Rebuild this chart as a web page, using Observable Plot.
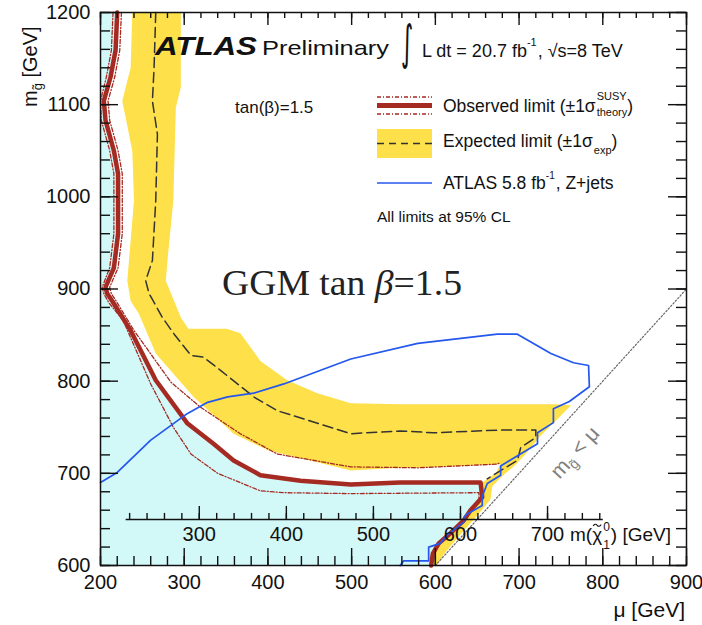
<!DOCTYPE html>
<html><head><meta charset="utf-8">
<script src="https://cdn.jsdelivr.net/npm/d3@7"></script>
<script src="https://cdn.jsdelivr.net/npm/@observablehq/plot@0.6"></script>
<style>
body{margin:0;background:#fff;}
#chart{position:relative;width:702px;height:625px;}
</style></head><body><div id="chart"></div>
<script>
// ---- tick values ----
const xTicksMajor = [200,300,400,500,600,700,800,900];
const yTicksMajor = [600,700,800,900,1000,1100,1200];
const chiTicksMajor = [300,400,500,600,700];
const xTicksMinor = d3.range(200, 901, 20);
const yTicksMinor = d3.range(600, 1201, 20);
const chiTicksMinor = d3.range(220, 761, 20);

// ---- series: [mu, m_gluino] in GeV ----
const observed = [[220,1200],[218,1159],[212,1130],[204,1104],[206,1083],[216,1050],[221,1025],[221,960],[216,923],[206,902],[208,895],[214,887],[236,855],[266,801],[304,754],[335,732],[359,714],[391,698],[439,692],[499,688],[558,690],[654,690],[656,674],[642,660],[634,649],[618,635],[604,624],[597,613],[595,600]];
const obsUp = [[225,1200],[223,1159],[217,1130],[209,1104],[211,1083],[221,1050],[226,1025],[226,960],[221,923],[211,902],[213,895],[220,885],[240,855],[284,799],[319,772],[367,743],[411,721],[499,707],[579,706],[674,710],[678,712]];
const obsDown = [[215,1200],[213,1159],[207,1130],[200,1104],[201,1083],[211,1050],[216,1025],[216,960],[211,923],[202,902],[204,895],[210,885],[227,866],[260,797],[287,750],[308,721],[340,700],[391,681],[419,679],[499,678],[652,679],[652,670]];
const expected = [[266,1200],[264,1140],[262,1104],[268,1068],[266,996],[262,931],[254,909],[258,895],[263,887],[274,869],[288,851],[308,828],[323,826],[343,812],[383,783],[411,768],[499,743],[558,746],[598,744],[678,747],[720,747],[720,739],[702,728],[698,714],[678,703],[662,694]];
const expUpper = [[296,1200],[296,1119],[290,1097],[287,996],[280,931],[278,909],[296,869],[305,857],[351,857],[367,852],[391,822],[423,801],[459,787],[499,776],[558,775],[744,775],[762,774]];
const expRightEdge = [[744,757],[726,741],[706,719],[693,707],[680,697],[668,686],[666,672],[650,654],[630,634],[610,612],[602,600]];
const expInnerEdge = [[595,600],[597,613],[604,624],[618,635],[634,649],[642,660],[656,674],[656,690],[672,700],[678,710]];
const expLower = [[579,706],[558,706],[499,703],[400,725],[359,743],[311,783],[266,830],[246,873],[236,887],[232,909],[240,996],[238,1050],[226,1104],[236,1140],[238,1200]];
const zjets = [[200,690],[220,701],[260,736],[304,765],[328,777],[352,783],[383,787],[419,797],[499,824],[579,841],[674,851],[698,851],[738,830],[765,820],[783,817],[784,794],[760,778],[741,770],[741,755],[722,744],[722,732],[678,708],[678,698],[662,689],[656,675],[656,665],[638,656],[634,652],[634,647],[614,633],[606,624],[592,620],[592,605],[562,605],[558,600]];
const kinematicLimit = [[600,600],[900,900]];

// ---- layout ----
const W = 702, H = 625, mL = 100, mR = 16, mT = 12, mB = 60;
const pxX = 700 / (W - mL - mR), pxY = 600 / (H - mT - mB);
const muOfChi = m => 318 + (m - 300) * 1.04;
const chiAxisY = 650;

const cyanPoly = [[200,1200], ...observed, [200,600]];
const yellowPoly = [...expUpper, ...expRightEdge, ...expInnerEdge, ...expLower];

const RED = "#a52a22", BLUE = "#2457ee", YELLOW = "#fde04a", CYAN = "#d3f8f8";
const X = d => d[0], Y = d => d[1];

const plot = Plot.plot({
  width: W, height: H, marginLeft: mL, marginRight: mR, marginTop: mT, marginBottom: mB,
  x: {domain: [200, 900]}, y: {domain: [600, 1200]},
  style: {fontFamily: "'Liberation Sans', Arial, sans-serif", fontSize: "20px", color: "#111", background: "white", overflow: "visible"},
  marks: [
    Plot.line(cyanPoly, {x: X, y: Y, fill: CYAN, stroke: "none"}),
    Plot.line(yellowPoly, {x: X, y: Y, fill: YELLOW, stroke: "none"}),
    Plot.line(kinematicLimit, {x: X, y: Y, stroke: "#666", strokeWidth: 1.2, strokeDasharray: "1.5,2"}),
    Plot.line(obsUp, {x: X, y: Y, stroke: RED, strokeWidth: 1.3, strokeDasharray: "4,2,1,2"}),
    Plot.line(obsDown, {x: X, y: Y, stroke: RED, strokeWidth: 1.3, strokeDasharray: "4,2,1,2"}),
    Plot.line(expected, {x: X, y: Y, stroke: "#333", strokeWidth: 1.5, strokeDasharray: "10,5"}),
    Plot.line(observed, {x: X, y: Y, stroke: RED, strokeWidth: 4.5}),
    Plot.line(zjets, {x: X, y: Y, stroke: BLUE, strokeWidth: 1.7}),
    // inner neutralino-mass axis
    Plot.ruleY([chiAxisY], {x1: muOfChi(216), x2: muOfChi(764), stroke: "#111", strokeWidth: 1.5}),
    Plot.ruleX(chiTicksMinor, {x: muOfChi, y1: chiAxisY, y2: chiAxisY + 6 * pxY, stroke: "#111", strokeWidth: 1.4}),
    Plot.ruleX(chiTicksMajor, {x: muOfChi, y1: chiAxisY, y2: chiAxisY + 13 * pxY, stroke: "#111", strokeWidth: 1.4}),
    Plot.text(chiTicksMajor, {x: muOfChi, y: chiAxisY, text: d => String(d), dy: 15, fontSize: 20, fill: "#111"}),
    // frame ticks (inward)
    Plot.ruleX(xTicksMinor, {x: d => d, y1: 600, y2: 600 + 9 * pxY, stroke: "#111", strokeWidth: 1.4}),
    Plot.ruleX(xTicksMajor, {x: d => d, y1: 600, y2: 600 + 17 * pxY, stroke: "#111", strokeWidth: 1.4}),
    Plot.ruleX(xTicksMinor, {x: d => d, y1: 1200, y2: 1200 - 6 * pxY, stroke: "#111", strokeWidth: 1.4}),
    Plot.ruleX(xTicksMajor, {x: d => d, y1: 1200, y2: 1200 - 13 * pxY, stroke: "#111", strokeWidth: 1.4}),
    Plot.ruleY(yTicksMinor, {y: d => d, x1: 200, x2: 200 + 10 * pxX, stroke: "#111", strokeWidth: 1.4}),
    Plot.ruleY(yTicksMajor, {y: d => d, x1: 200, x2: 200 + 18 * pxX, stroke: "#111", strokeWidth: 1.4}),
    Plot.ruleY(yTicksMinor, {y: d => d, x1: 900, x2: 900 - 10 * pxX, stroke: "#111", strokeWidth: 1.4}),
    Plot.ruleY(yTicksMajor, {y: d => d, x1: 900, x2: 900 - 18 * pxX, stroke: "#111", strokeWidth: 1.4}),
    Plot.axisX(xTicksMajor, {tickSize: 0, tickPadding: 9, label: null, tickFormat: d => String(d)}),
    Plot.axisY(yTicksMajor, {tickSize: 0, tickPadding: 10, label: null, tickFormat: d => String(d)}),
    Plot.frame({stroke: "#111", strokeWidth: 1.5})
  ]
});
document.getElementById("chart").appendChild(plot);

// ---- annotations ----
const svg = d3.select(plot);
const g = svg.append("g").attr("font-family", "'Liberation Sans', Arial, sans-serif").attr("fill", "#111").attr("text-anchor", "start");
function txt(x, y, s, size, attrs = {}) {
  const t = g.append("text").attr("x", x).attr("y", y).attr("font-size", size).text(s);
  for (const k in attrs) t.attr(k, attrs[k]);
  return t;
}
const wid = t => t.node().getComputedTextLength();

// title
txt(155, 55, "ATLAS", 25, {"font-weight": "bold", "font-style": "italic", textLength: 102, lengthAdjust: "spacingAndGlyphs"});
txt(262, 55, "Preliminary", 21, {textLength: 127, lengthAdjust: "spacingAndGlyphs"});
g.append("text").attr("transform", "translate(401,59) scale(0.7,1.4)").attr("font-size", 34)
  .attr("font-family", "'DejaVu Sans', sans-serif").attr("font-weight", "normal").text("\u222B");
{
  const t = txt(422, 57, "L dt = 20.7 fb", 18);
  const x1 = 422 + wid(t);
  const s = txt(x1, 46, "-1", 11);
  txt(x1 + wid(s) + 1, 57, ", \u221As=8 TeV", 18);
}
txt(235, 113, "tan(\u03B2)=1.5", 17);

// legend
g.append("line").attr("x1", 377).attr("x2", 432).attr("y1", 97).attr("y2", 97).attr("stroke", RED).attr("stroke-width", 1.3).attr("stroke-dasharray", "4,2,1,2");
g.append("line").attr("x1", 377).attr("x2", 432).attr("y1", 105.5).attr("y2", 105.5).attr("stroke", RED).attr("stroke-width", 5);
g.append("line").attr("x1", 377).attr("x2", 432).attr("y1", 114).attr("y2", 114).attr("stroke", RED).attr("stroke-width", 1.3).attr("stroke-dasharray", "4,2,1,2");
g.append("rect").attr("x", 377).attr("y", 129).attr("width", 55).attr("height", 29).attr("fill", YELLOW);
g.append("line").attr("x1", 377).attr("x2", 432).attr("y1", 143.5).attr("y2", 143.5).attr("stroke", "#333").attr("stroke-width", 1.5).attr("stroke-dasharray", "7,5");
g.append("line").attr("x1", 377).attr("x2", 432).attr("y1", 183).attr("y2", 183).attr("stroke", BLUE).attr("stroke-width", 1.5);
{
  const t = txt(443, 112, "Observed limit (\u00B11\u03C3", 17.5);
  const x0 = 443 + wid(t) + 1;
  const a = txt(x0, 100, "SUSY", 11);
  const b = txt(x0, 116, "theory", 11);
  txt(x0 + Math.max(wid(a), wid(b)), 112, ")", 17.5);
}
{
  const t = txt(443, 147, "Expected limit (\u00B11\u03C3", 17.5);
  const x0 = 443 + wid(t) + 1;
  const a = txt(x0, 154, "exp", 11);
  txt(x0 + wid(a), 147, ")", 17.5);
}
{
  const t = txt(443, 189, "ATLAS 5.8 fb", 17.5);
  const x0 = 443 + wid(t);
  const a = txt(x0, 179, "-1", 10);
  txt(x0 + wid(a) + 1, 189, ", Z+jets", 17.5);
}
txt(377, 222, "All limits at 95% CL", 15.5);

// big label
{
  const t = g.append("text").attr("x", 222).attr("y", 295).attr("font-size", 35)
    .attr("font-family", "'Liberation Serif', 'Times New Roman', serif").attr("fill", "#222")
    .attr("textLength", 240).attr("lengthAdjust", "spacingAndGlyphs");
  t.append("tspan").text("GGM tan ");
  t.append("tspan").attr("font-style", "italic").text("\u03B2");
  t.append("tspan").text("=1.5");
}

// axis titles
{
  const t = g.append("text").attr("transform", "translate(37,107) rotate(-90)").attr("font-size", 20);
  t.append("tspan").text("m");
  t.append("tspan").attr("font-size", 13).attr("dy", 5).text("g\u0303");
  t.append("tspan").attr("dy", -5).text(" [GeV]");
}
txt(685, 617, "\u03BC [GeV]", 21, {"text-anchor": "end"});

// inner axis title
{
  const t = txt(570, 541, "m(", 19);
  const xc = 570 + wid(t);
  const c = txt(xc, 541, "\u03C7", 19);
  const wc = wid(c);
  const cx = xc + wc / 2;
  g.append("path").attr("d", `M${cx - 4},${526} q2,-3 4,-0.7 q2,2.3 4,-0.7`)
    .attr("fill", "none").attr("stroke", "#111").attr("stroke-width", 1.1);
  const x0 = xc + wc + 1;
  const a = txt(x0, 531, "0", 12);
  txt(x0, 549, "1", 12);
  txt(x0 + wid(a) + 1, 541, ") [GeV]", 19);
}

// kinematic label
{
  const t = g.append("text").attr("transform", "translate(580,457) rotate(-47.8)").attr("font-size", 21).attr("fill", "#808080").attr("text-anchor", "middle");
  t.append("tspan").text("m");
  t.append("tspan").attr("font-size", 14).attr("dy", 5).text("g\u0303");
  t.append("tspan").attr("dy", -5).text(" < \u03BC");
}
</script>
</body></html>
